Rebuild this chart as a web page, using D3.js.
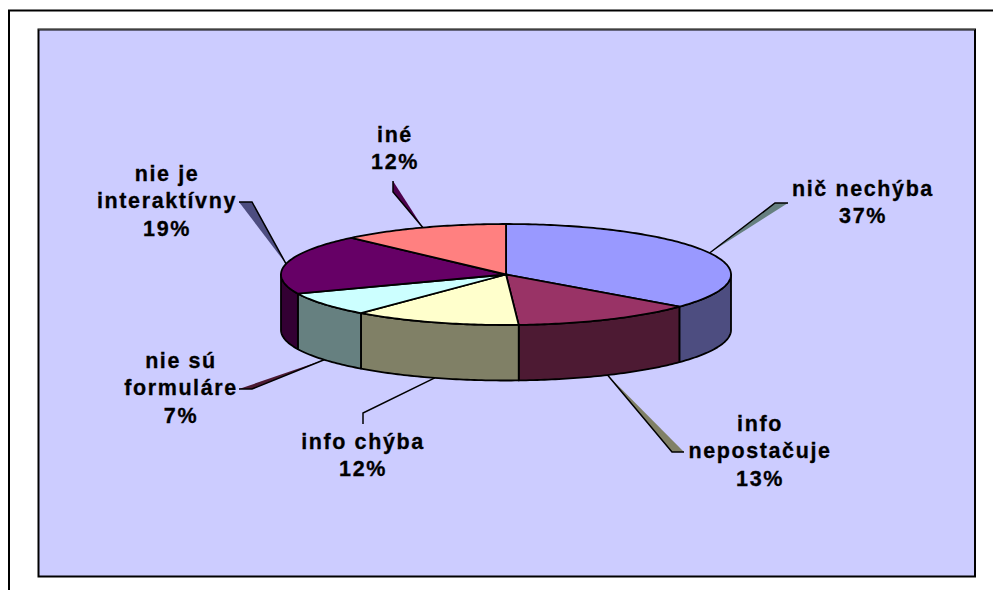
<!DOCTYPE html>
<html><head><meta charset="utf-8">
<script src="https://cdn.jsdelivr.net/npm/d3@7/dist/d3.min.js"></script>
<style>html,body{margin:0;padding:0;background:#fff}svg{display:block}</style>
</head><body><svg id="c" width="993" height="590"></svg>
<script>
const categories = ["nič nechýba","info nepostačuje","info chýba","nie sú formuláre","nie je interaktívny","iné"];
const shares = [36.0, 13.1, 12.05, 7.65, 19.15, 12.05];
const percentLabels = ["37%","13%","12%","7%","19%","12%"];
const labelLines = [["nič nechýba"],["info","nepostačuje"],["info chýba"],["nie sú","formuláre"],["nie je","interaktívny"],["iné"]];
const topColors = ["#9999ff","#993366","#ffffcc","#ccffff","#660066","#ff8080"];
const sideColors = ["#4d4d80","#4d1a33","#808066","#668080","#330033","#804040"];
const leaderColors = ["#668080","#808066","none","#4d1a33","#4d4d80","#4d004d"];
// layout: leader elbow, leader end, label centre x, first baseline
const leaderElbow = [[775,203],[672,452],[363,413],[252,389],[252,202],[393,192]];
const leaderEnd = [[788,203],[684,452],[363,424],[239,389],[239,202],[393,181]];
const labelPos = [[863,196],[760,431],[363,449],[181,368],[167,181],[395,142]];

const svg = d3.select("#c");
const cx=506, cy=274.5, rx=225, ry=50.5, depth=55.5;
const LH=27.3;

svg.append("rect").attr("x",9).attr("y",10.5).attr("width",1100).attr("height",700)
  .attr("fill","#fff").attr("stroke","#000").attr("stroke-width",2);
svg.append("rect").attr("x",38.5).attr("y",29.5).attr("width",936.5).attr("height",547)
  .attr("fill","#ccccff").attr("stroke","#000").attr("stroke-width",2);
svg.append("path").attr("d","M38.5 29 H975").attr("stroke","#808080").attr("stroke-width",1).attr("fill","none");

const pie = d3.pie().value(d=>d).sort(null);
const arcs = pie(shares);
const px = d3.scaleLinear().domain([-1,1]).range([cx-rx,cx+rx]);
const py = d3.scaleLinear().domain([-1,1]).range([cy-ry,cy+ry]);
const X = a=>px(Math.sin(a)), Y = a=>py(-Math.cos(a));
const line = d3.line();
const arcPts=(a0,a1,dy=0)=>{const n=Math.max(2,Math.ceil(Math.abs(a1-a0)*60));
  return d3.range(n+1).map(i=>{const a=a0+(a1-a0)*i/n;return [X(a),Y(a)+dy];});};

// leaders
arcs.forEach((d,i)=>{
  const m=(d.startAngle+d.endAngle)/2;
  const front=Math.cos(m)<0;
  const s=[X(m),Y(m)+(front?depth:0)];
  const e=leaderElbow[i], t=leaderEnd[i];
  svg.append("path").attr("d",line([s,e,t])+"Z").attr("fill",leaderColors[i]).attr("stroke","none");
  svg.append("path").attr("d",line([s,e,t])).attr("fill","none").attr("stroke","#000").attr("stroke-width",1.5);
});

// sides (visible front half only)
const fl=Math.PI/2, fr=3*Math.PI/2;
arcs.forEach((d,i)=>{
  const a0=Math.max(d.startAngle,fl), a1=Math.min(d.endAngle,fr);
  if(a1<=a0) return;
  const pts=arcPts(a0,a1,0).concat(arcPts(a1,a0,depth));
  svg.append("path").attr("d",line(pts)+"Z").attr("fill",sideColors[i])
    .attr("stroke","#000").attr("stroke-width",1.8).attr("stroke-linejoin","round");
});

// top
arcs.forEach((d,i)=>{
  const pts=[[cx,cy]].concat(arcPts(d.startAngle,d.endAngle));
  svg.append("path").attr("d",line(pts)+"Z").attr("fill",topColors[i])
    .attr("stroke","#000").attr("stroke-width",1.8).attr("stroke-linejoin","round");
});

// labels
categories.forEach((c,i)=>{
  const lines=labelLines[i].concat([percentLabels[i]]);
  const t=svg.append("text").attr("text-anchor","middle")
    .attr("font-family","'Liberation Sans',Arial,sans-serif").attr("font-weight","bold")
    .attr("font-size",21.5).attr("letter-spacing",1.6).attr("fill","#000")
    .attr("stroke","#000").attr("stroke-width",0.3);
  lines.forEach((l,j)=>t.append("tspan").attr("x",labelPos[i][0]).attr("y",labelPos[i][1]+j*LH).text(l));
});
</script></body></html>
